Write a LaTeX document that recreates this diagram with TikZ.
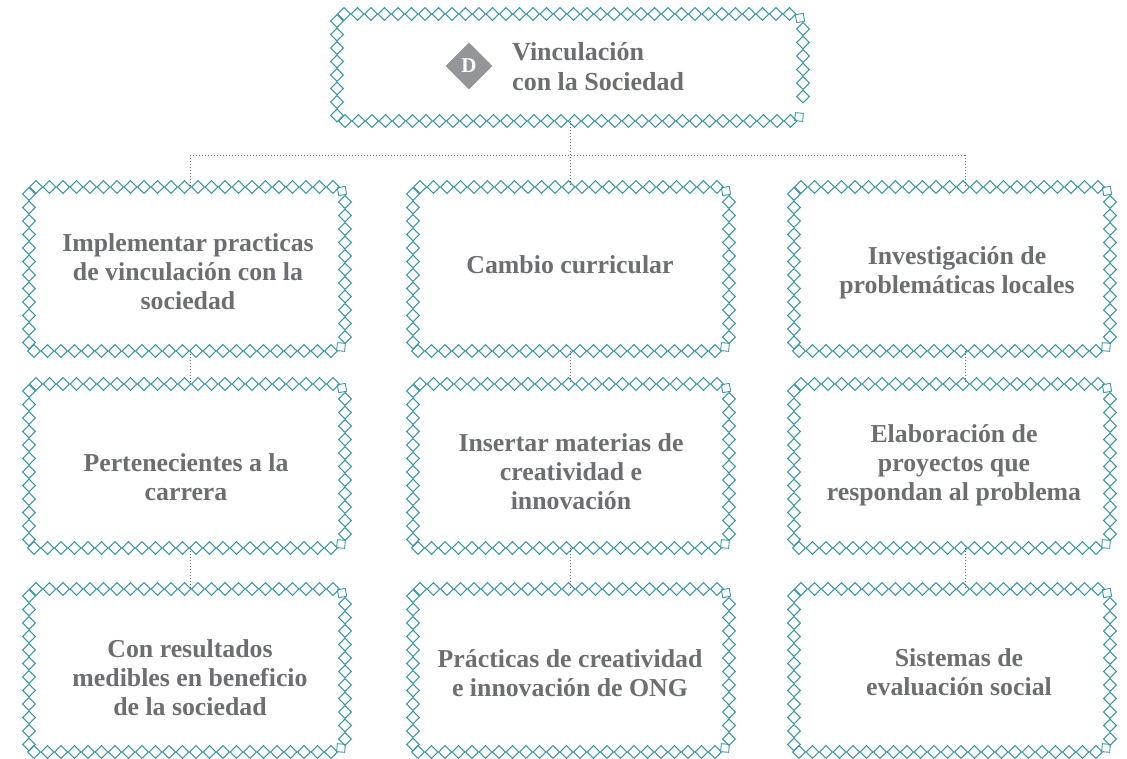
\documentclass[tikz,border=0pt]{standalone}
\usepackage{fontspec}
\setmainfont{Liberation Serif}
\usetikzlibrary{calc}
\definecolor{teal}{HTML}{3A97A8}
\definecolor{txt}{HTML}{6D6E71}
\definecolor{dgray}{HTML}{939598}
\tikzset{
  dmd/.style={draw=teal,line width=1.1pt,line join=miter},
  frame/.style={inner sep=0pt,outer sep=0pt,rectangle},
  label text/.style={text=txt,font=\bfseries\fontsize{25.8}{29}\selectfont,align=center,inner sep=0pt},
  dotline/.style={draw=txt,line width=0.9pt,dash pattern=on 1pt off 2pt},
}
\newcommand{\dmdat}[2]{\draw[dmd] (#1-6.4,#2) -- (#1,#2-6.4) -- (#1+6.4,#2) -- (#1,#2+6.4) -- cycle;}
% name, L, T, R, B, offset of first diamond in the bottom row
\newcommand{\dbox}[6]{%
  \node[frame,minimum width=#4-#2,minimum height=#5-#3] (#1) at ({(#2+#4)/2},{(#3+#5)/2}) {};
  \pgfmathsetmacro{\xa}{#2+7}\pgfmathsetmacro{\xb}{#2+20.5}\pgfmathsetmacro{\xc}{#4-10}
  \foreach \px in {\xa,\xb,...,\xc}{\dmdat{\px}{#3}}
  \pgfmathsetmacro{\xa}{#2+#6}\pgfmathsetmacro{\xb}{#2+#6+13.5}\pgfmathsetmacro{\xc}{#4-12}
  \foreach \px in {\xa,\xb,...,\xc}{\dmdat{\px}{#5}}
  \pgfmathsetmacro{\ya}{#3+7}\pgfmathsetmacro{\yb}{#3+20.5}\pgfmathsetmacro{\yc}{#5-5}
  \foreach \py in {\ya,\yb,...,\yc}{\dmdat{#2}{\py}}
  \pgfmathsetmacro{\ya}{#3+15}\pgfmathsetmacro{\yb}{#3+28.5}\pgfmathsetmacro{\yc}{#5-12}
  \foreach \py in {\ya,\yb,...,\yc}{\dmdat{#4}{\py}}
  \draw[dmd,line width=0.9pt,rotate around={10:(#4-3,#3+4)}] (#4-7,#3) rectangle (#4+1,#3+8);
  \draw[dmd,line width=0.9pt,rotate around={-5:(#4-4,#5-4)}] (#4-8,#5-8) rectangle (#4,#5);
}
\begin{document}
\begin{tikzpicture}[x=1pt,y=-1pt]
\useasboundingbox (0,0) rectangle (1127,758);
\fill[white] (0,0) rectangle (1127,758);
\dbox{top}{337}{14}{803}{121}{8}
\dbox{a1}{29}{187}{345}{351}{5}
\dbox{a2}{29}{384}{345}{548}{5}
\dbox{a3}{29}{589}{345}{752}{5}
\dbox{b1}{413}{187}{729}{351}{5}
\dbox{b2}{413}{384}{729}{548}{5}
\dbox{b3}{413}{589}{729}{752}{5}
\dbox{c1}{794}{187}{1110}{351}{5}
\dbox{c2}{794}{384}{1110}{548}{5}
\dbox{c3}{794}{589}{1110}{752}{5}
\coordinate (xa) at (190,155);
\coordinate (xb) at (570,155);
\coordinate (xc) at (965,155);
\draw[dotline] (top.south -| xb) -- (b1.north -| xb);
\draw[dotline] (xa) -- (xc);
\draw[dotline] (xa) -- (a1.north -| xa);
\draw[dotline] (xc) -- (c1.north -| xc);
\draw[dotline] (a1.south -| xa) -- (a2.north -| xa);
\draw[dotline] (a2.south -| xa) -- (a3.north -| xa);
\draw[dotline] (b1.south -| xb) -- (b2.north -| xb);
\draw[dotline] (b2.south -| xb) -- (b3.north -| xb);
\draw[dotline] (c1.south -| xc) -- (c2.north -| xc);
\draw[dotline] (c2.south -| xc) -- (c3.north -| xc);
\node[fill=dgray,inner sep=0pt,minimum size=33pt,rotate=45] (dm) at (469,66) {};
\node[text=white,font=\bfseries\fontsize{21}{24}\selectfont,inner sep=0pt] (dl) at (469,66) {D};
\node[label text,font=\bfseries\fontsize{26}{29.5}\selectfont,align=left,anchor=west] (ttop) at (512,66.5) {Vinculación\\con la Sociedad};
\node[label text] (ta1) at (188,272) {Implementar practicas\\de vinculación con la\\sociedad};
\node[label text] (ta2) at (186,477.5) {Pertenecientes a la\\carrera};
\node[label text] (ta3) at (190,677.5) {Con resultados\\medibles en beneficio\\de la sociedad};
\node[label text] (tb1) at (570,264.5) {Cambio curricular};
\node[label text] (tb2) at (571,472) {Insertar materias de\\creatividad e\\innovación};
\node[label text] (tb3) at (570,673.5) {Prácticas de creatividad\\e innovación de ONG};
\node[label text] (tc1) at (957,273) {Investigación de\\problemáticas locales};
\node[label text] (tc2) at (954,465) {Elaboración de\\proyectos que\\respondan al problema};
\node[label text] (tc3) at (959,672) {Sistemas de\\evaluación social};
\end{tikzpicture}
\end{document}
